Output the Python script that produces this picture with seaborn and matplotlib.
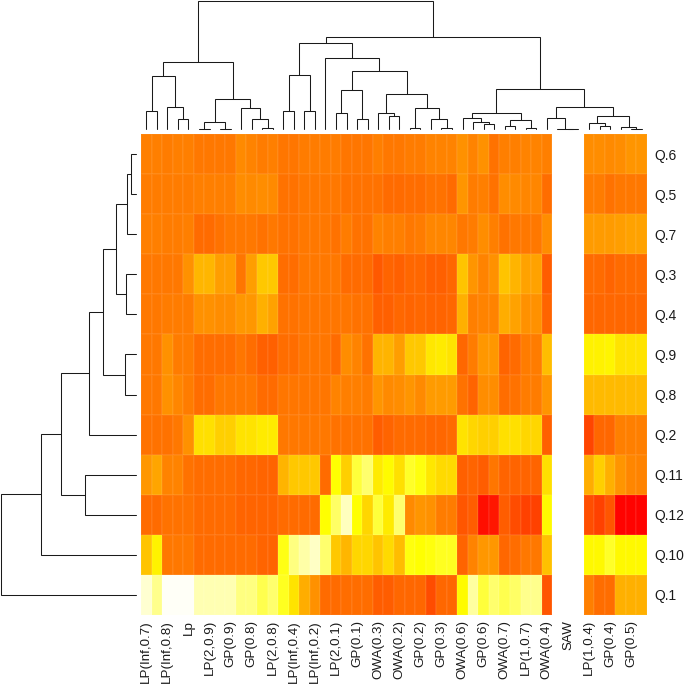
import numpy as np
import pandas as pd
import matplotlib.pyplot as plt
from matplotlib.colors import LinearSegmentedColormap
import seaborn as sns

nan = np.nan

# labels, only every second column carries one
col_names = ['LP(Inf,0.7)', 'LP(Inf,0.8)', 'Lp', 'LP(2,0.9)', 'GP(0.9)', 'GP(0.8)', 'LP(2,0.8)', 'LP(Inf,0.4)',
             'LP(Inf,0.2)', 'LP(2,0.1)', 'GP(0.1)', 'OWA(0.3)', 'OWA(0.2)', 'GP(0.2)', 'GP(0.3)', 'OWA(0.6)',
             'GP(0.6)', 'OWA(0.7)', 'LP(1,0.7)', 'OWA(0.4)', 'SAW', 'LP(1,0.4)', 'GP(0.4)', 'GP(0.5)']
row_names = ['Q.6', 'Q.5', 'Q.7', 'Q.3', 'Q.4', 'Q.9', 'Q.8', 'Q.2', 'Q.11', 'Q.12', 'Q.10', 'Q.1']

# position along the heat palette, 0 red, 74 yellow, 100 white
q6 = [37,37,36,37,37, 35,35,35,35, 40,38,36,37, 34,34, 36,36,36,36, 34,34,34, 37,35,35, 36,36, 38,38,38, 42,38,42,33, 37,37,38,38,37, nan,nan,nan, 41,41,40,41,43,43]
q5 = [36,36,36,36,36, 37,37,37,37, 41,40,41,40, 33,33, 35,35,35,35, 33,33,33, 33,31,31, 32,32, 33,33,31, 43,36,37,33, 41,40,39,39,32, nan,nan,nan, 36,36,33,35,35,35]
q7 = [37,37,36,36,37, 31,31,33,35, 35,35,33,35, 33,33, 35,35,35,33, 36,33,33, 38,37,37, 35,36, 39,39,39, 35,36,41,37, 33,35,35,35,41, nan,nan,nan, 45,45,45,46,47,47]
q3 = [35,35,35,35,42, 53,53,46,46, 34,46,58,58, 32,32, 35,35,35,35, 31,31,31, 26,29,28, 30,30, 28,28,30, 57,43,38,42, 57,52,47,47,27, nan,nan,nan, 31,31,29,31,31,31]
q4 = [35,35,36,36,36, 42,42,41,41, 44,44,51,47, 33,33, 34,34,34,34, 34,33,33, 28,28,30, 29,30, 29,29,30, 51,37,38,38, 50,47,42,42,29, nan,nan,nan, 30,30,30,30,30,30]
q9 = [35,35,42,36,36, 32,32,32,32, 34,32,28,28, 32,32, 34,34,34,31, 41,38,33, 52,52,46, 58,58, 67,68,66, 30,36,44,44, 29,31,36,36,55, nan,nan,nan, 70,70,71,66,66,66]
q8 = [35,35,42,39,36, 32,32,35,35, 35,35,31,31, 34,34, 34,34,34,38, 37,37,36, 43,40,41, 43,40, 45,45,45, 33,29,41,41, 32,33,36,36,43, nan,nan,nan, 54,54,54,54,54,54]
q2 = [33,33,33,35,42, 65,65,60,60, 66,66,68,68, 35,35, 35,35,35,33, 33,33,33, 27,29,31, 31,31, 30,30,31, 66,62,60,60, 65,65,62,62,28, nan,nan,nan, 20,30,30,37,37,37]
q11 = [44,48,38,38,33, 32,32,32,32, 30,30,29,29, 52,58, 58,58,31,74, 60,80,85, 68,73,65, 78,75, 67,63,63, 28,29,27,34, 29,29,29,29,65, nan,nan,nan, 50,60,51,43,39,38]
q12 = [31,31,33,33,33, 31,31,31,31, 29,29,29,29, 31,31, 31,31,74,84, 93,74,62, 80,68,85, 40,43, 42,36,36, 25,27,4,7, 27,22,19,19,73, nan,nan,nan, 23,19,25,1,1,1]
q10 = [57,70,35,35,35, 31,31,31,31, 31,31,29,29, 76,87, 91,94,85,58, 53,62,62, 57,63,55, 75,74, 75,77,77, 29,38,44,44, 30,32,35,35,56, nan,nan,nan, 72,72,78,72,72,72]
q1 = [95,88,99,99,99, 92,92,92,92, 87,87,82,85, 77,66, 50,42,31,31, 32,32,32, 27,27,30, 30,30, 22,30,30, 73,90,80,85, 82,84,88,88,25, nan,nan,nan, 37,32,32,51,51,51]

# trees as (height, left, right), ints are leaf positions
col_left = (200,
            (159, (55, 0, 1), (65, 2, (31, 3, 4))),
            (89, (22, (1, 5, 6), (1, 7, 8)), (64, 9, (29, 10, (4, 11, 12)))))
col_mid = (258,
           (161, (54, 13, 14), (54, 15, 16)),
           (214, 17,
            (173,
             (116, (47, 18, 19), (31, 20, 21)),
             (104,
              (47, 22, (39, 23, 24)),
              (62, (3, 25, 26), (29, 27, (2, 28, 29)))))))
col_right = (119,
             (49, (32, 30, (22, 31, (14, 32, 33))), (28, (10, 34, 35), (2, 36, 37))),
             (65,
              (34, 38, (1, 39, (0.5, 40, 41))),
              (40, (19, 42, (10, 43, 44)), (7, 45, (1, 46, 47)))))
col_tree = (385, col_left, (277, col_mid, col_right))
row_tree = (406,
            (286,
             (226,
              (140,
               (98, (61, (28, (14, 0, 1), 2), (30, 3, 4)), (34, 5, 6)),
               7),
              (153, 8, 9)),
             10),
            11)


def draw_tree(ax, node, vertical):
    # returns (leaf position, height) of the node and draws its link
    if not isinstance(node, tuple):
        return node + 0.5, 0
    h, a, b = node
    p1, h1 = draw_tree(ax, a, vertical)
    p2, h2 = draw_tree(ax, b, vertical)
    xs = [p1, p1, p2, p2]
    ys = [h1, h, h, h2]
    if not vertical:
        xs, ys = ys, xs
    ax.plot(xs, ys, color='#1a1a1a', lw=0.75, solid_joinstyle='miter', clip_on=False)
    return (p1 + p2) / 2, h


sns.set_theme(style='white')
plt.rcParams['font.family'] = ['Liberation Sans', 'DejaVu Sans']

heat = LinearSegmentedColormap.from_list('heat', [(0, '#ff0000'), (0.74, '#ffff00'), (1, '#ffffff')])

values = pd.DataFrame([q6, q5, q7, q3, q4, q9, q8, q2, q11, q12, q10, q1], index=row_names)

W = 685.0
H = 685.0
fig = plt.figure(figsize=(W / 100, H / 100), dpi=100)

ax = fig.add_axes([141 / W, 1 - 615 / H, 506 / W, 481 / H])
sns.heatmap(values, ax=ax, cmap=heat, vmin=0, vmax=100, cbar=False, xticklabels=False, yticklabels=row_names,
            linewidths=0.2, linecolor=(1, 1, 1, 0.05))
# labels sit on the first of each two columns
ax.set_xticks(np.arange(0, 48, 2) + 0.5)
ax.set_xticklabels(col_names, rotation=90)
ax.yaxis.tick_right()
ax.tick_params(axis='both', length=0, colors='#1a1a1a')
ax.tick_params(axis='x', pad=3.5, labelsize=9.6)
ax.tick_params(axis='y', pad=5.5, labelsize=10, rotation=0)

top = fig.add_axes([141 / W, 1 - 129 / H, 506 / W, 129 / H])
draw_tree(top, col_tree, True)
top.set_xlim(0, 48)
top.set_ylim(0, 387)
top.axis('off')

side = fig.add_axes([0, 1 - 615 / H, 136 / W, 481 / H])
draw_tree(side, row_tree, False)
side.set_ylim(12, 0)
side.set_xlim(408, 0)
side.axis('off')

fig.savefig('out.png', dpi=100)
